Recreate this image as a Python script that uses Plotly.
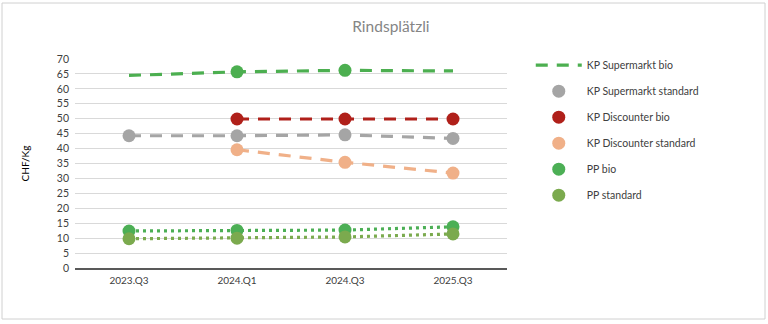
import plotly.graph_objects as go

# Quarterly price observations, CHF per kg
quarters = ["2023.Q3", "2024.Q1", "2024.Q3", "2025.Q3"]
kp_supermarkt_bio = [64.5, 65.7, 66.2, 66.0]
kp_supermarkt_standard = [44.3, 44.3, 44.6, 43.4]
kp_discounter_bio = [None, 49.9, 49.9, 49.9]
kp_discounter_standard = [None, 39.6, 35.4, 31.8]
pp_bio = [12.4, 12.6, 12.7, 13.8]
pp_standard = [9.8, 10.0, 10.4, 11.4]
y_ticks = list(range(0, 75, 5))

FONT = "Lato"
series = [
    # name, values, colour, dash, legend style, marker sizes
    ("KP Supermarkt bio", kp_supermarkt_bio, "#4CAF50", "12px,9px", "line", [0, 13, 13, 0]),
    ("KP Supermarkt standard", kp_supermarkt_standard, "#A5A5A5", "12px,9px", "marker", 13),
    ("KP Discounter bio", kp_discounter_bio, "#B0201A", "12px,9px", "marker", 13),
    ("KP Discounter standard", kp_discounter_standard, "#F0B088", "12px,9px", "marker", 13),
    ("PP bio", pp_bio, "#4CAF55", "3px,4px", "marker", 13),
    ("PP standard", pp_standard, "#7BAA4E", "3px,4px", "marker", 13),
]

fig = go.Figure()

# connecting lines
for i, (name, vals, col, dash, leg, msize) in enumerate(series):
    fig.add_trace(go.Scatter(
        x=quarters, y=vals, mode="lines", name=name,
        line=dict(color=col, width=3.2, dash=dash),
        connectgaps=True,
        showlegend=(leg == "line"), legendgroup=f"g{i}", legendrank=i,
        hoverinfo="skip",
    ))

# point markers
for i, (name, vals, col, dash, leg, msize) in enumerate(series):
    fig.add_trace(go.Scatter(
        x=quarters, y=vals, mode="markers", name=name,
        marker=dict(color=col, size=msize, opacity=1, line=dict(width=0)),
        showlegend=(leg == "marker"), legendgroup=f"g{i}", legendrank=i,
    ))

fig.update_layout(
    width=768, height=324,
    margin=dict(l=75, r=261, t=59, b=56),
    paper_bgcolor="white", plot_bgcolor="white",
    font=dict(family=FONT, size=10, color="#404040"),
    title=dict(text="Rindsplätzli", x=0.509, xref="container", xanchor="center",
               y=1 - 27 / 324, yref="container", yanchor="middle",
               font=dict(family=FONT, size=15.5, color="#858585")),
    showlegend=True,
    legend=dict(x=1.055, xanchor="left", y=1.04, yanchor="top",
                font=dict(family=FONT, size=10.5, color="#404040"),
                tracegroupgap=7, itemwidth=46, bgcolor="rgba(0,0,0,0)"),
    xaxis=dict(type="category", categoryorder="array", categoryarray=quarters,
               showgrid=False, showline=True, linecolor="#595959", linewidth=1.5,
               ticks="", tickfont=dict(family=FONT, size=10, color="#404040"),
               ticklabelstandoff=2, range=[-0.5, 3.5], fixedrange=True),
    yaxis=dict(range=[0, 70], tickvals=y_ticks, showgrid=True,
               gridcolor="#D9D9D9", gridwidth=1, zeroline=False,
               ticks="", tickfont=dict(family=FONT, size=10.5, color="#404040"),
               ticklabelstandoff=5,
               title=dict(text="CHF/Kg", standoff=25,
                          font=dict(family=FONT, size=10, color="#000000"))),
    shapes=[dict(type="rect", xref="paper", yref="paper",
                 x0=(2 - 75) / 432, x1=(765 - 75) / 432,
                 y0=(268 - 319) / 209, y1=(268 - 3) / 209,
                 line=dict(color="#D0D0D0", width=1), fillcolor="rgba(0,0,0,0)",
                 layer="below")],
)

fig.write_html("out.html")
